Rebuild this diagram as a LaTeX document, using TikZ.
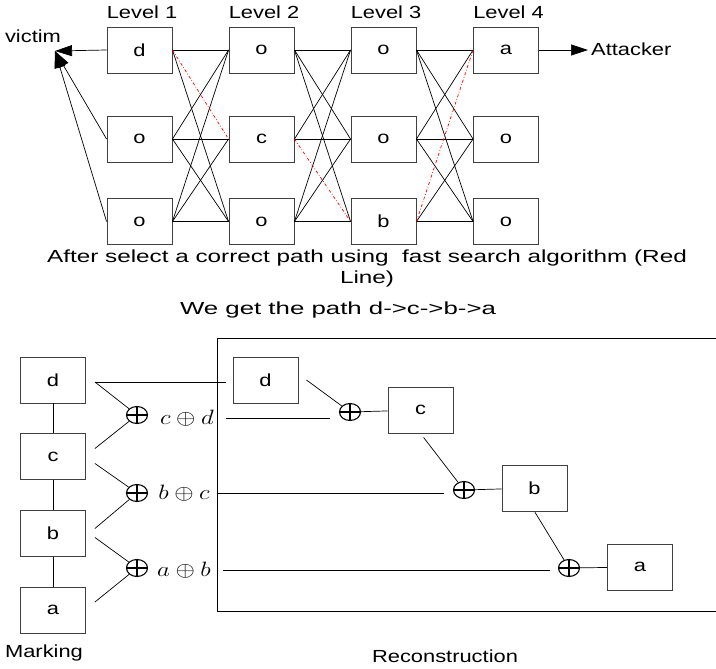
\documentclass[tikz,border=0pt]{standalone}
\usepackage{fontspec}
\setmainfont[FakeStretch=1.25]{Liberation Sans}
\usepackage{tikz}
\usetikzlibrary{arrows.meta,shapes.geometric}
\tikzstyle{legend}=[inner sep=0pt,black]
\tikzstyle{box}=[draw=black!75,line width=0.9pt,minimum width=65pt,minimum height=46pt,inner sep=0pt]
\tikzstyle{link}=[line width=0.7pt,black]
\tikzstyle{redpath}=[line width=0.7pt,red,dash dot]
\tikzstyle{tip}=[-{Triangle[length=17pt,width=11pt]}]
\tikzstyle{xorop}=[draw,ellipse,line width=1.1pt,minimum width=21pt,minimum height=17pt,inner sep=0pt,
  path picture={\draw[line width=1.1pt] (path picture bounding box.north) -- (path picture bounding box.south)
  (path picture bounding box.west) -- (path picture bounding box.east);}]
\tikzstyle{xorlabel}=[inner sep=0pt,xscale=1.2,font=\fontsize{20}{24}\selectfont]

\begin{document}
\begin{tikzpicture}[x=1pt,y=-1pt,font=\fontsize{17.5}{21}\selectfont]
\useasboundingbox (0,0) rectangle (716,669);
	% the four levels
	\foreach \place/\name/\txt in {{(139.5,50)/n11/d}, {(139.5,139)/n12/o}, {(139.5,221.5)/n13/o},
	{(261.5,50)/n21/o}, {(261.5,139)/n22/c}, {(261.5,221.5)/n23/o},
	{(383.5,50)/n31/o}, {(383.5,139)/n32/o}, {(383.5,221.5)/n33/b},
	{(506,50)/n41/a}, {(506,139)/n42/o}, {(506,221.5)/n43/o}}
    \node[box] (\name) at \place {\txt};
	\foreach \lvl in {1,...,4}
    \node[legend,anchor=base west] (lev\lvl) at ([yshift=8pt]n\lvl1.north west) {Level \lvl};

	\foreach \i/\j/\p/\q in {1/2/1/2, 2/3/2/3, 3/4/3/1}
	\foreach \r in {1,2,3}
	\foreach \s in {1,2,3}
	{\ifnum\r\s=\p\q \else \draw[link] (n\i\r.east) -- (n\j\s.west); \fi}

	\draw[redpath] (n11.east) -- (n22.west);
	\draw[redpath] (n22.east) -- (n33.west);
	\draw[redpath] (n33.east) -- (n41.west);

	\coordinate (vic) at (55,51);
	\node[legend] (victim) at (33,36) {victim};
	\foreach \r in {1,2,3}
    \draw[link,tip] (n1\r.west) -- (vic);
	\coordinate (att) at (588,50);
	\draw[link,tip] (n41.east) -- (att);
	\node[legend,anchor=west] (attacker) at (591,49) {Attacker};

	\node[legend,align=center,xscale=1.11] (cap1) at (367,268) {After select a correct path using~ fast search algorithm (Red\\Line)};
	\node[legend,xscale=1.18] (cap2) at (338,310) {We get the path d->c->b->a};

	% marking
	\foreach \place/\name/\txt in {{(53,380)/md/d}, {(53,456.5)/mc/c}, {(53,533.5)/mb/b}, {(53,610)/ma/a}}
    \node[box] (\name) at \place {\txt};
	\foreach \source/\dest in {md/mc, mc/mb, mb/ma}
    \draw[link] (\source) -- (\dest);
	\node[legend] (marking) at (44,653) {Marking};

	\node[xorop] (x1) at (137,415) {};
	\node[xorop] (x2) at (137,493) {};
	\node[xorop] (x3) at (137,568) {};
	\node[xorlabel] (lcd) at (187,418) {$c\oplus d$};
	\node[xorlabel] (lbc) at (184,493) {$b\oplus c$};
	\node[xorlabel] (lab) at (184,570) {$a\oplus b$};

	\draw[link] ([xshift=9pt,yshift=-2pt]md.east) -- (x1);
	\draw[link] ([xshift=9pt,yshift=8pt]mc.east) -- (x1);
	\draw[link] ([xshift=9pt,yshift=-7pt]mc.east) -- (x2);
	\draw[link] ([xshift=9pt,yshift=5pt]mb.east) -- (x2);
	\draw[link] ([xshift=9pt,yshift=-4pt]mb.east) -- (x3);
	\draw[link] ([xshift=9pt,yshift=8pt]ma.east) -- (x3);

	% reconstruction
	\draw[link,line width=1pt] (716,338) -- (217,338) -- (217,611) -- (716,611);
	\foreach \place/\name/\txt in {{(265.5,380)/rd/d}, {(420.5,410)/rc/c}, {(534.5,488)/rb/b}, {(640,567)/ra/a}}
    \node[box] (\name) at \place {\txt};
	\node[xorop] (r1) at (350,412) {};
	\node[xorop] (r2) at (464,490) {};
	\node[xorop] (r3) at (569,568) {};
	\node[legend] (recon) at (445,656) {Reconstruction};

	\draw[link] ([xshift=9pt,yshift=-2pt]md.east) -- ([xshift=-7pt,yshift=-2pt]rd.west);
	\draw[link,shorten <=12pt,shorten >=9pt] (lcd.east) -- (lcd.east -| r1.west);
	\draw[link,shorten <=7pt,shorten >=9pt] (lbc.east) -- (lbc.east -| r2.west);
	\draw[link,shorten <=12pt,shorten >=8pt] (lab.east) -- (lab.east -| r3.west);
	\draw[link] ([xshift=8pt]rd.east) -- (r1);
	\draw[link] (r1) -- (rc);
	\draw[link,shorten <=5pt] (rc.south) -- (r2);
	\draw[link] (r2) -- (rb);
	\draw[link,shorten <=1pt] (rb.south) -- (r3);
	\draw[link] (r3) -- (ra);
\end{tikzpicture}
\end{document}
